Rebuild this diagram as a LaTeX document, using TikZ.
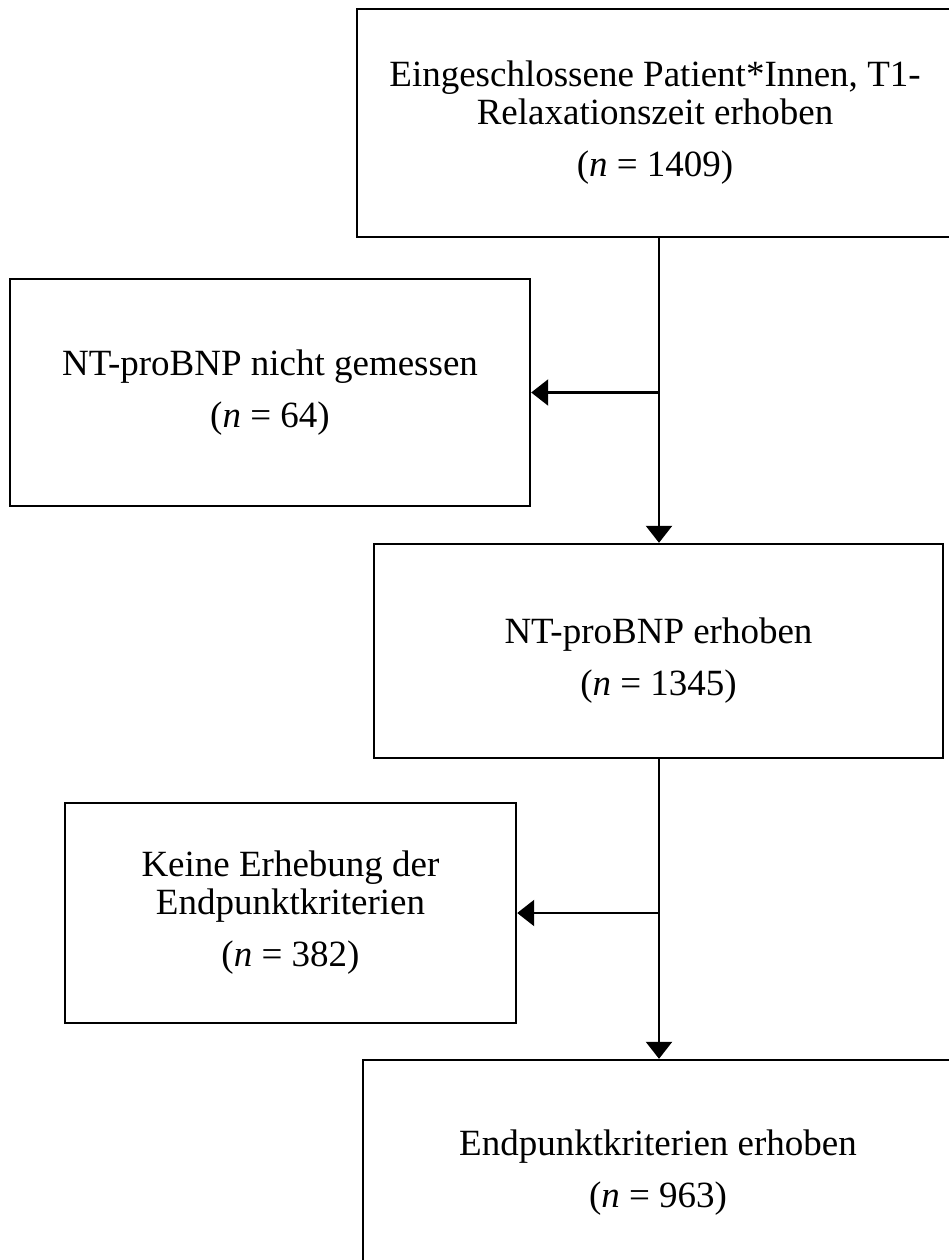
\documentclass[tikz,border=0pt]{standalone}
\usepackage{fontspec}
\setmainfont{Liberation Serif}
\usetikzlibrary{arrows.meta}

\tikzset{
  box/.style={draw, line width=2.4pt, align=center, inner sep=0pt,
    font=\fontsize{37}{38}\selectfont},
  flow/.style={line width=2.4pt, -{Triangle[width=26pt,length=17pt]}}
}

\begin{document}
\begin{tikzpicture}[x=1pt,y=-1pt]
\useasboundingbox (0,0) rectangle (949,1260);

\def\xm{659}
\def\ya{392.5}
\def\yb{913}

\node[box, minimum width=596pt, minimum height=228pt] (incl) at (655,123)
  {Eingeschlossene Patient*Innen, T1-\\Relaxationszeit erhoben\\[14pt](\textit{n} = 1409)};
\node[box, minimum width=520pt, minimum height=227pt] (nomeas) at (270,\ya)
  {NT-proBNP nicht gemessen\\[14pt](\textit{n} = 64)};
\node[box, minimum width=569pt, minimum height=214pt] (bnp) at (658.5,651)
  {\rule{0pt}{44pt}NT-proBNP erhoben\\[14pt](\textit{n} = 1345)};
\node[box, minimum width=451pt, minimum height=220pt] (noend) at (290.5,\yb)
  {Keine Erhebung der\\Endpunktkriterien\\[14pt](\textit{n} = 382)};
\node[box, minimum width=590pt, minimum height=226pt] (endp) at (658,1173)
  {Endpunktkriterien erhoben\\[14pt](\textit{n} = 963)};

\coordinate (ja) at (\xm,\ya);
\coordinate (jb) at (\xm,\yb);

\draw[flow] (incl.south -| ja) -- (bnp.north -| ja);
\draw[flow] (ja) -- (nomeas.east);
\draw[flow] (bnp.south -| jb) -- (endp.north -| jb);
\draw[flow] (jb) -- (noend.east);

\end{tikzpicture}
\end{document}
